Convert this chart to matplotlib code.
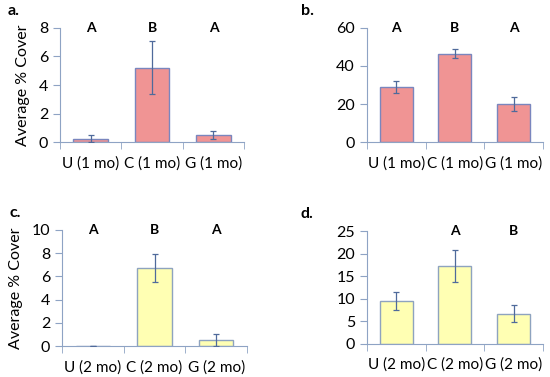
import matplotlib.pyplot as plt
import numpy as np

plt.rcParams['font.family'] = ['Lato', 'DejaVu Sans']

# Data
cats_1mo = ["U (1 mo)", "C (1 mo)", "G (1 mo)"]
cats_2mo = ["U (2 mo)", "C (2 mo)", "G (2 mo)"]

a_vals = [0.25, 5.2, 0.5]
a_err = [0.25, 1.85, 0.3]
a_letters = ["A", "B", "A"]

b_vals = [29, 46.5, 20]
b_err = [3.0, 2.3, 3.5]
b_letters = ["A", "B", "A"]

c_vals = [0, 6.75, 0.5]
c_err = [0, 1.2, 0.5]
c_letters = ["A", "B", "A"]

d_vals = [9.5, 17.2, 6.7]
d_err = [1.9, 3.5, 1.9]
d_letters = ["", "A", "B"]

pink = '#F09494'
yellow = '#FFFFB3'
axcol = '#8EA3C4'

fig = plt.figure(figsize=(5.5, 3.77), dpi=100, facecolor='white')

panels = [
    ("a.", [0.109, 0.623, 0.335, 0.303], cats_1mo, a_vals, a_err, a_letters, pink, '#7A86BE', 8, 2, True),
    ("b.", [0.667, 0.623, 0.320, 0.303], cats_1mo, b_vals, b_err, b_letters, pink, '#7A86BE', 60, 20, False),
    ("c.", [0.113, 0.082, 0.336, 0.308], cats_2mo, c_vals, c_err, c_letters, yellow, '#8EA3BF', 10, 2, True),
    ("d.", [0.667, 0.088, 0.320, 0.299], cats_2mo, d_vals, d_err, d_letters, yellow, '#8EA3BF', 25, 5, False),
]

for tag, rect, cats, vals, err, letters, fc, ec, ymax, ystep, ylab in panels:
    ax = fig.add_axes(rect)
    x = np.arange(len(cats))
    ax.bar(x, vals, width=0.56, color=fc, edgecolor=ec, linewidth=1.0, zorder=2)
    ax.errorbar(x, vals, yerr=err, fmt='none', ecolor='#4F6A9B', elinewidth=0.9,
                capsize=2.5, capthick=0.9, zorder=3)
    ax.set_xlim(-0.5, len(cats) - 0.5)
    ax.set_ylim(0, ymax)
    ax.set_yticks(np.arange(0, ymax + 0.001, ystep))
    ax.set_xticks(x)
    ax.set_xticklabels(cats, fontsize=11)
    ax.tick_params(axis='x', length=0, pad=10)
    # boundary ticks like Excel
    ax.set_xticks(np.arange(-0.5, len(cats)), minor=True)
    ax.tick_params(axis='x', which='minor', length=5, direction='out', color=axcol)
    ax.tick_params(axis='y', labelsize=11.5, length=5, direction='out', color=axcol)
    for s in ['top', 'right']:
        ax.spines[s].set_visible(False)
    for s in ['left', 'bottom']:
        ax.spines[s].set_color(axcol)
    for xi, lt in zip(x, letters):
        ax.text(xi, ymax, lt, ha='center', va='center', fontsize=10, fontweight='bold')
    if ylab:
        ax.set_ylabel("Average % Cover", fontsize=11.5, labelpad=6)
    fig.text(rect[0] - (0.095 if ylab else 0.12), rect[1] + rect[3] + 0.045, tag,
             fontsize=11.5, fontweight='bold', ha='left', va='center')

plt.savefig('out.png', dpi=100, facecolor='white')
